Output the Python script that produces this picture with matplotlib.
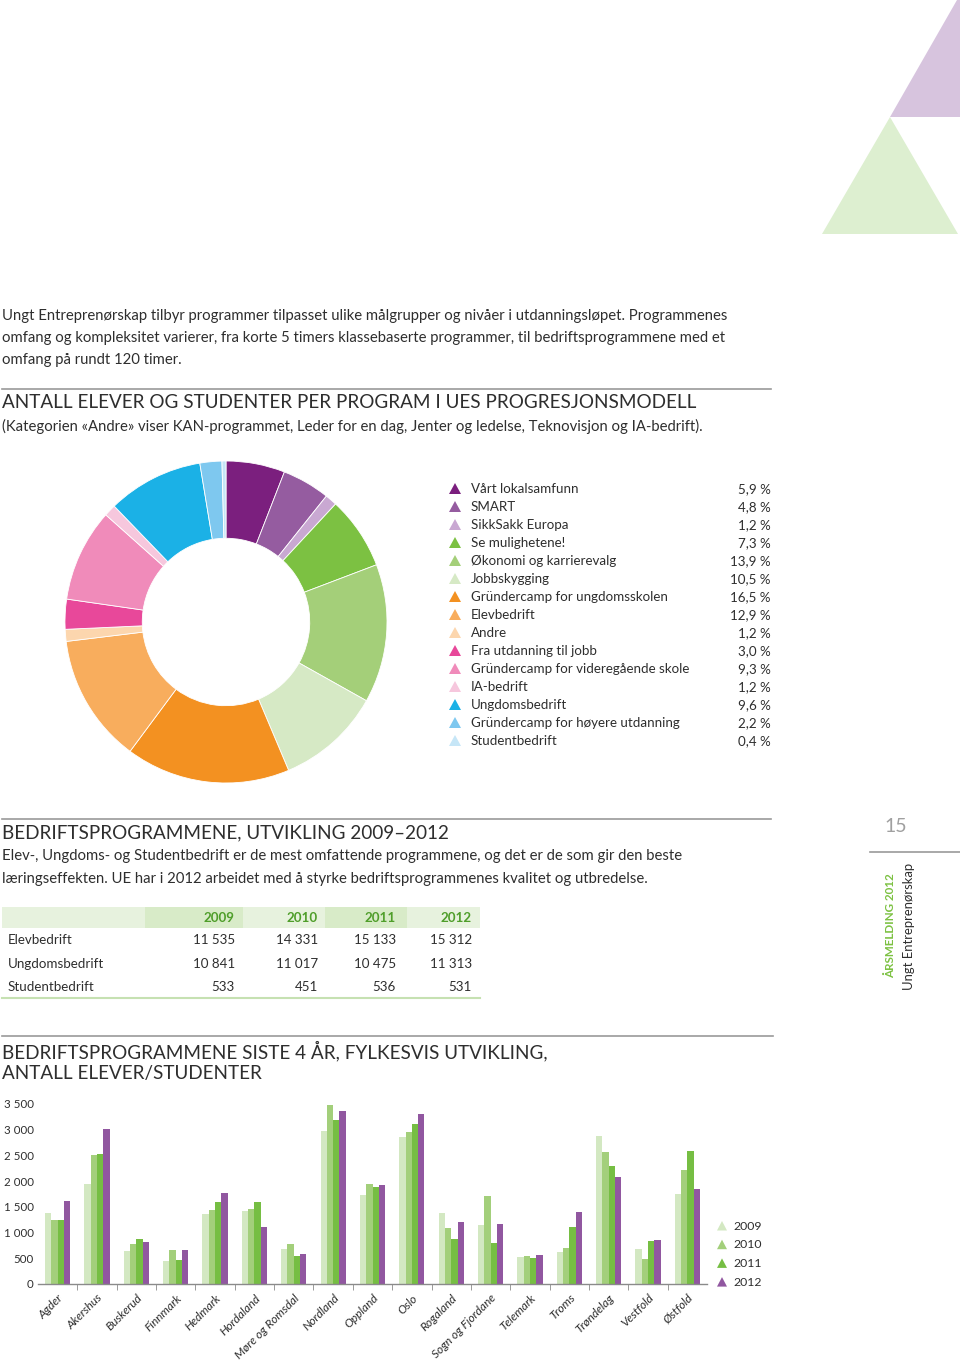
import matplotlib
matplotlib.use("Agg")
import matplotlib.pyplot as plt
from matplotlib.patches import Polygon, Rectangle
from matplotlib.ticker import FuncFormatter, FixedLocator
import numpy as np

# ---- data -------------------------------------------------------------
intro_lines = [
    "Ungt Entreprenørskap tilbyr programmer tilpasset ulike målgrupper og nivåer i utdanningsløpet. Programmenes",
    "omfang og kompleksitet varierer, fra korte 5 timers klassebaserte programmer, til bedriftsprogrammene med et",
    "omfang på rundt 120 timer.",
]
pie_title = "ANTALL ELEVER OG STUDENTER PER PROGRAM I UES PROGRESJONSMODELL"
pie_subtitle = ("(Kategorien «Andre» viser KAN-programmet, Leder for en dag, Jenter og ledelse, "
                "Teknovisjon og IA-bedrift).")
pie_labels = [
    "Vårt lokalsamfunn", "SMART", "SikkSakk Europa", "Se mulighetene!",
    "Økonomi og karrierevalg", "Jobbskygging", "Gründercamp for ungdomsskolen",
    "Elevbedrift", "Andre", "Fra utdanning til jobb",
    "Gründercamp for videregående skole", "IA-bedrift", "Ungdomsbedrift",
    "Gründercamp for høyere utdanning", "Studentbedrift",
]
pie_values = [5.9, 4.8, 1.2, 7.3, 13.9, 10.5, 16.5, 12.9, 1.2, 3.0, 9.3, 1.2, 9.6, 2.2, 0.4]

table_title = "BEDRIFTSPROGRAMMENE, UTVIKLING 2009\u20132012"
table_text = [
    "Elev-, Ungdoms- og Studentbedrift er de mest omfattende programmene, og det er de som gir den beste",
    "læringseffekten. UE har i 2012 arbeidet med å styrke bedriftsprogrammenes kvalitet og utbredelse.",
]
years = ["2009", "2010", "2011", "2012"]
table_rows = ["Elevbedrift", "Ungdomsbedrift", "Studentbedrift"]
elevbedrift = [11535, 14331, 15133, 15312]
ungdomsbedrift = [10841, 11017, 10475, 11313]
studentbedrift = [533, 451, 536, 531]

bar_title = ["BEDRIFTSPROGRAMMENE SISTE 4 ÅR, FYLKESVIS UTVIKLING,", "ANTALL ELEVER/STUDENTER"]
counties = ["Agder", "Akershus", "Buskerud", "Finnmark", "Hedmark", "Hordaland",
            "Møre og Romsdal", "Nordland", "Oppland", "Oslo", "Rogaland",
            "Sogn og Fjordane", "Telemark", "Troms", "Trøndelag", "Vestfold", "Østfold"]
v2009 = [1380, 1950, 640, 450, 1370, 1410, 690, 2980, 1730, 2850, 1380, 1140, 530, 630, 2870, 690, 1745]
v2010 = [1250, 2500, 785, 670, 1440, 1465, 780, 3480, 1935, 2950, 1085, 1710, 540, 705, 2575, 495, 2225]
v2011 = [1250, 2535, 870, 475, 1595, 1595, 550, 3195, 1895, 3120, 870, 805, 500, 1115, 2285, 845, 2590]
v2012 = [1610, 3010, 815, 660, 1765, 1110, 590, 3360, 1920, 3300, 1215, 1165, 560, 1405, 2080, 865, 1840]

page_number = "15"
side_green = "ÅRSMELDING 2012"
side_gray = "Ungt Entreprenørskap"

# ---- style ------------------------------------------------------------
W, H = 960, 1365
FONT = "Lato"
TXT = "#2e2e2e"
GRAY_LINE = "#9a9a9a"
pie_colors = ["#7b1f7e", "#955ca0", "#c9a8d2", "#7cc142", "#a4cf79", "#d6e9c5",
              "#f39121", "#f8ad5d", "#fcd6ae", "#e8489a", "#f08bba", "#f6c7dd",
              "#1bb1e6", "#7ec8ef", "#c6e6f7"]
year_colors = ["#d3e8c2", "#a3cf7b", "#76be43", "#9157a0"]
plt.rcParams["font.family"] = [FONT, "DejaVu Sans"]
plt.rcParams["font.weight"] = "normal"


def fmt_thousands(v):
    return f"{int(v):,}".replace(",", " ")


fig = plt.figure(figsize=(W / 100, H / 100), dpi=100)
fig.patch.set_facecolor("white")

# page overlay in pixel coordinates
pg = fig.add_axes([0, 0, 1, 1])
pg.set_xlim(0, W)
pg.set_ylim(H, 0)
pg.axis("off")
pg.patch.set_alpha(0)

# corner triangles
pg.add_patch(Polygon([(890, 117), (960, 117), (960, 0), (957, 0)], closed=True,
                     facecolor="#d7c4de", edgecolor="none"))
pg.add_patch(Polygon([(890, 117), (822, 234), (958, 234)], closed=True,
                     facecolor="#ddefd0", edgecolor="none"))

# intro text
for i, line in enumerate(intro_lines):
    pg.text(2, 316 + 22 * i, line, fontsize=10.75, color=TXT, va="center", ha="left")

# pie section header
pg.plot([2, 771], [389, 389], color=GRAY_LINE, lw=1.2)
pg.text(2, 403, pie_title, fontsize=13.6, color=TXT, va="center", ha="left")
pg.text(2, 426, pie_subtitle, fontsize=10.7, color=TXT, va="center", ha="left")

# donut
cx, cy, r = 226, 622, 161
axp = fig.add_axes([(cx - r) / W, 1 - (cy + r) / H, 2 * r / W, 2 * r / H])
axp.pie(pie_values, colors=pie_colors, startangle=90, counterclock=False, radius=1,
        wedgeprops=dict(width=0.48, edgecolor="white", linewidth=0.6))
axp.set_xlim(-1, 1)
axp.set_ylim(-1, 1)
axp.set_aspect("equal")
axp.axis("off")

# donut legend
for i, (lab, val, col) in enumerate(zip(pie_labels, pie_values, pie_colors)):
    y = 489 + 18 * i
    pg.add_patch(Polygon([(449, y + 5), (461, y + 5), (455, y - 6)], closed=True,
                         facecolor=col, edgecolor="none"))
    pg.text(471, y, lab, fontsize=9.6, color=TXT, va="center", ha="left")
    pg.text(771, y, f"{val:.1f}".replace(".", ",") + " %", fontsize=9.6, color=TXT,
            va="center", ha="right")

# table section
pg.plot([2, 771], [819, 819], color=GRAY_LINE, lw=1.2)
pg.text(2, 833, table_title, fontsize=13.6, color=TXT, va="center", ha="left")
for i, line in enumerate(table_text):
    pg.text(2, 856 + 23 * i, line, fontsize=10.75, color=TXT, va="center", ha="left")

col_edges = [2, 145, 243, 325, 407, 480]
band_cols = ["#e7f2de", "#d8ebc8", "#e7f2de", "#d8ebc8", "#e7f2de"]
for j in range(5):
    pg.add_patch(Rectangle((col_edges[j], 907), col_edges[j + 1] - col_edges[j], 21,
                           facecolor=band_cols[j], edgecolor="none"))
col_right = [235, 318, 396, 472]
for j, yr in enumerate(years):
    pg.text(col_right[j], 918, yr, fontsize=9.6, color="#4f9e2a", va="center", ha="right",
            fontweight="bold")
for i, (name, vals) in enumerate(zip(table_rows, [elevbedrift, ungdomsbedrift, studentbedrift])):
    y = 940 + 23.5 * i
    pg.text(8, y, name, fontsize=9.6, color=TXT, va="center", ha="left")
    for j, v in enumerate(vals):
        pg.text(col_right[j], y, fmt_thousands(v), fontsize=9.6, color=TXT,
                va="center", ha="right")
pg.plot([2, 480], [998, 998], color="#c6e1b2", lw=1.5)

# side block
pg.text(896, 827, page_number, fontsize=14, color="#a0a0a0", va="center", ha="center")
pg.plot([870, 960], [852, 852], color=GRAY_LINE, lw=1.2)
pg.text(891, 978, side_green, fontsize=8.4, color="#7cc142", va="bottom", ha="center",
        rotation=90, fontweight="bold")
pg.text(909, 990, side_gray, fontsize=9.4, color=TXT, va="bottom", ha="center", rotation=90)

# bar section header
pg.plot([2, 773], [1036, 1036], color=GRAY_LINE, lw=1.2)
for i, line in enumerate(bar_title):
    pg.text(2, 1051 + 22 * i, line, fontsize=13.6, color=TXT, va="center", ha="left")

# grouped bars
axb = fig.add_axes([38 / W, 1 - 1284 / H, (707 - 38) / W, (1284 - 1104) / H])
x = np.arange(len(counties))
bw = 0.16
for k, (yr, vals) in enumerate(zip(years, [v2009, v2010, v2011, v2012])):
    axb.bar(x + (k - 1.5) * bw, vals, width=bw, color=year_colors[k], linewidth=0, label=yr)
axb.set_xlim(-0.5, len(counties) - 0.5)
axb.set_ylim(0, 3500)
axb.patch.set_alpha(0)
for s in ["top", "right", "left"]:
    axb.spines[s].set_visible(False)
axb.spines["bottom"].set_color("#8a8a8a")
axb.spines["bottom"].set_linewidth(1.0)
axb.yaxis.set_major_locator(FixedLocator(np.arange(0, 3501, 500)))
axb.yaxis.set_major_formatter(FuncFormatter(lambda v, p: fmt_thousands(v)))
axb.tick_params(axis="y", length=0, pad=3, labelsize=8.3, labelcolor=TXT)
axb.set_xticks(x)
axb.set_xticklabels(counties, rotation=45, ha="right", va="top", rotation_mode="anchor",
                    fontsize=8.6, color=TXT, style="italic")
axb.tick_params(axis="x", which="major", length=0, pad=6)
axb.set_xticks(np.arange(0.5, len(counties) - 0.5), minor=True)
axb.tick_params(axis="x", which="minor", length=4, color="#8a8a8a", direction="out")

# bar legend
for k, yr in enumerate(years):
    y = 1226 + 18.7 * k
    pg.add_patch(Polygon([(717, y + 4.5), (727, y + 4.5), (722, y - 5)], closed=True,
                         facecolor=year_colors[k], edgecolor="none"))
    pg.text(733, y, yr, fontsize=8.8, color=TXT, va="center", ha="left")

fig.savefig("out.png", dpi=100, facecolor="white")
